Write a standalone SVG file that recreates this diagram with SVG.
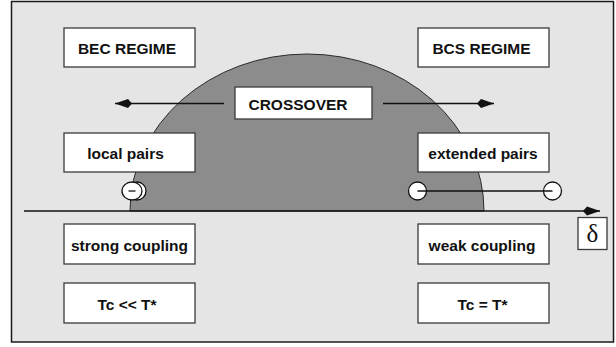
<svg xmlns="http://www.w3.org/2000/svg" width="616" height="347" viewBox="0 0 616 347">
  <style>
    .box { fill: #ffffff; stroke: #3a3a3a; stroke-width: 1.3; }
    .lbl { font-family: "Liberation Sans", Arial, sans-serif; font-weight: bold; font-size: 15.5px; fill: #111111; text-anchor: middle; }
    .ln { stroke: #111111; stroke-width: 1.5; fill: none; }
    .pt { fill: #ffffff; stroke: #111111; stroke-width: 1.3; }
  </style>
  <defs>
    <marker id="dart" viewBox="0 -5 18 10" refX="17" refY="0" markerWidth="18" markerHeight="10" markerUnits="userSpaceOnUse" orient="auto">
      <path d="M17,0 L4,-4.5 L0,0 L4,4.5 Z" fill="#111111"/>
    </marker>
  </defs>

  <rect id="frame" x="11.5" y="1.5" width="602" height="340.5" fill="#e5e5e5" stroke="#1a1a1a" stroke-width="1.5"/>

  <g id="dome">
    <path d="M130,211 A177,157 0 0 1 484,211 Z" fill="#8c8c8c" stroke="#2a2a2a" stroke-width="1"/>
  </g>

  <g id="connectors">
    <line class="ln" x1="224" y1="103.5" x2="115" y2="103.5" marker-end="url(#dart)"/>
    <line class="ln" x1="383" y1="103.5" x2="494" y2="103.5" marker-end="url(#dart)"/>
    <line class="ln" x1="24" y1="211" x2="600" y2="211" marker-end="url(#dart)"/>
  </g>

  <g id="local-pair">
    <ellipse class="pt" cx="137" cy="191" rx="9" ry="9"/>
    <ellipse class="pt" cx="132" cy="191" rx="10" ry="9"/>
    <line x1="128.5" y1="191" x2="135.5" y2="191" stroke="#111111" stroke-width="1.3"/>
  </g>

  <g id="extended-pair">
    <circle class="pt" cx="417.5" cy="191" r="9"/>
    <circle class="pt" cx="552.5" cy="191" r="9"/>
    <line x1="417.5" y1="191" x2="552.5" y2="191" stroke="#111111" stroke-width="1.3"/>
  </g>

  <g id="bec-regime">
    <rect class="box" x="64" y="28" width="131" height="39"/>
    <text class="lbl" x="127" y="54">BEC REGIME</text>
  </g>
  <g id="bcs-regime">
    <rect class="box" x="418" y="28" width="131" height="39"/>
    <text class="lbl" x="481.5" y="54">BCS REGIME</text>
  </g>
  <g id="crossover">
    <rect class="box" x="235" y="87" width="137" height="32"/>
    <text class="lbl" x="298" y="109.5">CROSSOVER</text>
  </g>
  <g id="local-pairs">
    <rect class="box" x="64" y="133" width="131" height="39"/>
    <text class="lbl" x="125.5" y="159">local pairs</text>
  </g>
  <g id="extended-pairs">
    <rect class="box" x="418" y="133" width="131" height="39"/>
    <text class="lbl" x="483" y="159">extended pairs</text>
  </g>
  <g id="strong-coupling">
    <rect class="box" x="64" y="224" width="131" height="40"/>
    <text class="lbl" x="129.5" y="251">strong coupling</text>
  </g>
  <g id="weak-coupling">
    <rect class="box" x="418" y="224" width="131" height="40"/>
    <text class="lbl" x="482" y="251">weak coupling</text>
  </g>
  <g id="tc-less">
    <rect class="box" x="64" y="283" width="131" height="40"/>
    <text class="lbl" x="127" y="310">Tc &lt;&lt; T*</text>
  </g>
  <g id="tc-equal">
    <rect class="box" x="418" y="283" width="131" height="40"/>
    <text class="lbl" x="482.5" y="310">Tc = T*</text>
  </g>
  <g id="delta">
    <rect class="box" x="578" y="217.5" width="29" height="32"/>
    <text x="592.5" y="242" font-family="'Liberation Serif', 'Times New Roman', serif" font-size="25" fill="#111111" text-anchor="middle">δ</text>
  </g>
</svg>
